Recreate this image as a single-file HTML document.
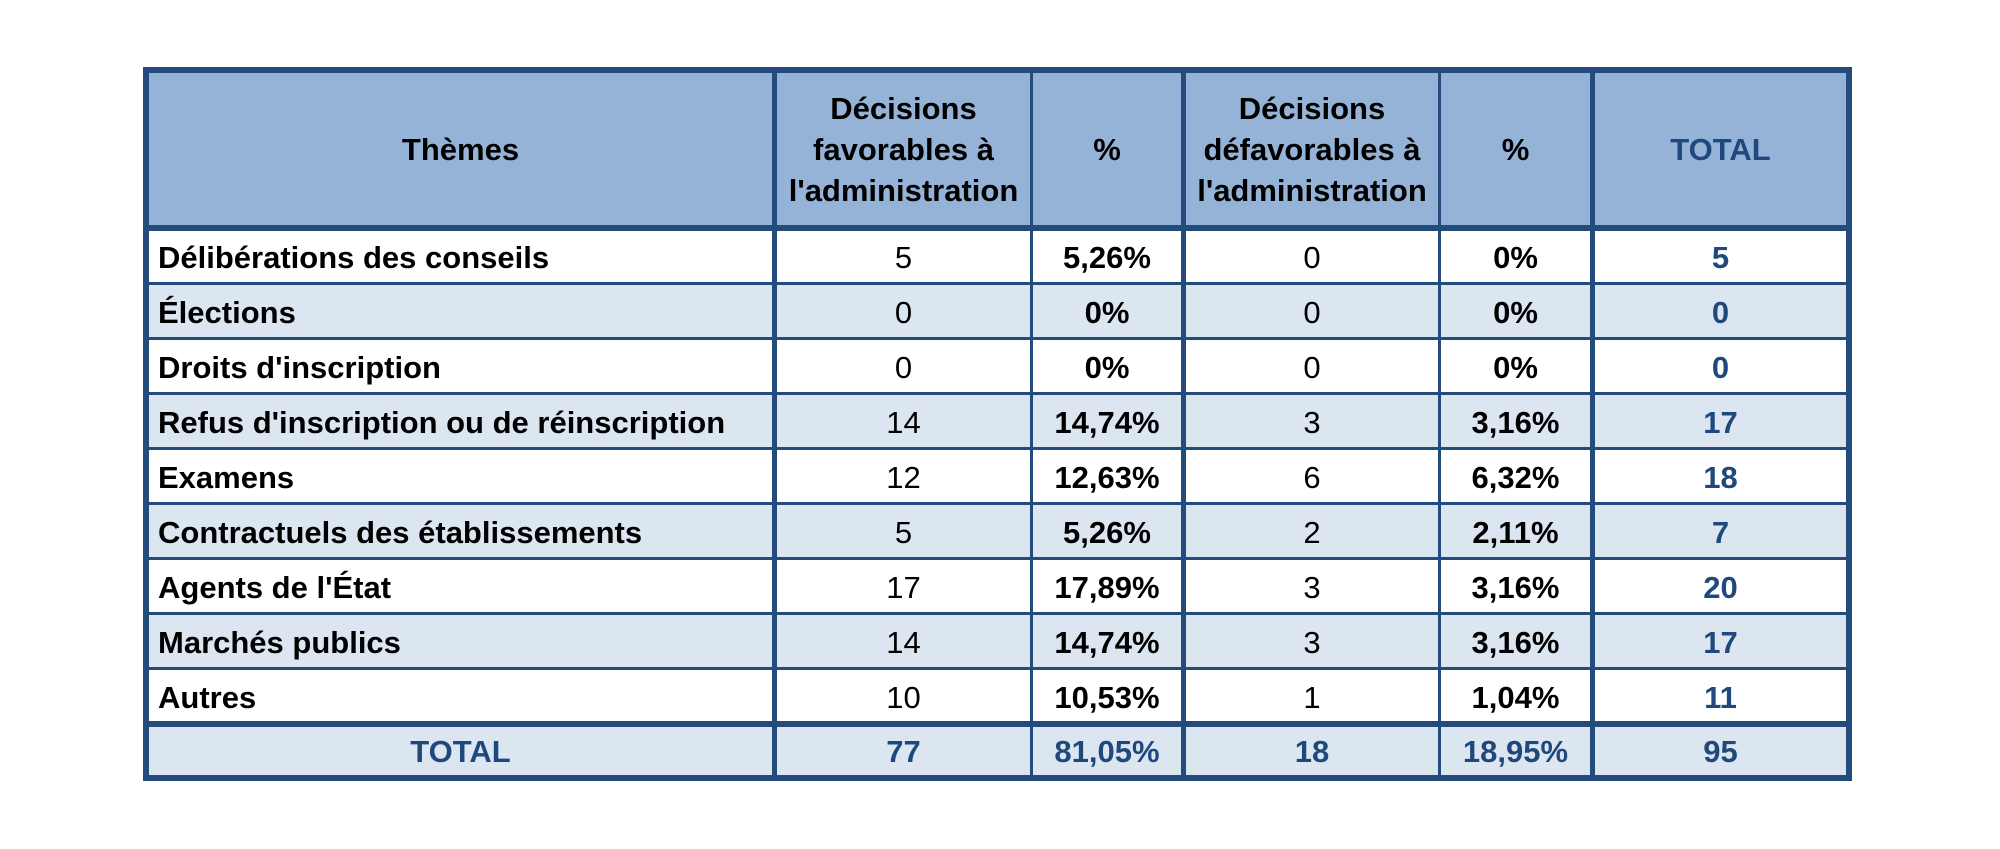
<!DOCTYPE html>
<html><head><meta charset="utf-8"><style>
body{margin:0;width:2000px;height:849px;background:#fff;position:relative;overflow:hidden;font-family:"Liberation Sans",Arial,sans-serif;font-weight:bold;font-size:31px;color:#000}
.bg,.ln,.c{position:absolute}
.ln{background:#234c7d}
.c{display:flex;align-items:center;justify-content:center;text-align:center;line-height:41px}
.l{justify-content:flex-start;padding-left:9px;box-sizing:border-box}
.n{font-weight:normal}
.b{color:#1f497d}
</style></head><body>
<div class="bg" style="left:146px;top:70px;width:1703px;height:158px;background:#95b3d7"></div>
<div class="bg" style="left:146px;top:284px;width:1703px;height:54px;background:#dce6f1"></div>
<div class="bg" style="left:146px;top:394px;width:1703px;height:54px;background:#dce6f1"></div>
<div class="bg" style="left:146px;top:504px;width:1703px;height:54px;background:#dce6f1"></div>
<div class="bg" style="left:146px;top:614px;width:1703px;height:54px;background:#dce6f1"></div>
<div class="bg" style="left:146px;top:724px;width:1703px;height:54px;background:#dce6f1"></div>

<div class="ln" style="left:143px;top:67px;width:1709px;height:6px"></div>
<div class="ln" style="left:143px;top:225px;width:1709px;height:6px"></div>
<div class="ln" style="left:143px;top:282px;width:1709px;height:3px"></div>
<div class="ln" style="left:143px;top:337px;width:1709px;height:3px"></div>
<div class="ln" style="left:143px;top:392px;width:1709px;height:3px"></div>
<div class="ln" style="left:143px;top:447px;width:1709px;height:3px"></div>
<div class="ln" style="left:143px;top:502px;width:1709px;height:3px"></div>
<div class="ln" style="left:143px;top:557px;width:1709px;height:3px"></div>
<div class="ln" style="left:143px;top:612px;width:1709px;height:3px"></div>
<div class="ln" style="left:143px;top:667px;width:1709px;height:3px"></div>
<div class="ln" style="left:143px;top:721px;width:1709px;height:6px"></div>
<div class="ln" style="left:143px;top:775px;width:1709px;height:6px"></div>
<div class="ln" style="left:143px;top:67px;width:6px;height:714px"></div>
<div class="ln" style="left:772px;top:67px;width:5px;height:714px"></div>
<div class="ln" style="left:1030px;top:67px;width:3px;height:714px"></div>
<div class="ln" style="left:1181px;top:67px;width:5px;height:714px"></div>
<div class="ln" style="left:1438px;top:67px;width:3px;height:714px"></div>
<div class="ln" style="left:1590px;top:67px;width:5px;height:714px"></div>
<div class="ln" style="left:1846px;top:67px;width:6px;height:714px"></div>

<div class="c" style="left:149px;top:73px;width:623px;height:152px">Thèmes</div>
<div class="c" style="left:777px;top:73px;width:253px;height:152px">Décisions<br>favorables à<br>l'administration</div>
<div class="c" style="left:1033px;top:73px;width:148px;height:152px">%</div>
<div class="c" style="left:1186px;top:73px;width:252px;height:152px">Décisions<br>défavorables à<br>l'administration</div>
<div class="c" style="left:1441px;top:73px;width:149px;height:152px">%</div>
<div class="c b" style="left:1595px;top:73px;width:251px;height:152px">TOTAL</div>

<div id="rows"></div>
<script>
var d=[["Délibérations des conseils","5","5,26%","0","0%","5"],
["Élections","0","0%","0","0%","0"],
["Droits d'inscription","0","0%","0","0%","0"],
["Refus d'inscription ou de réinscription","14","14,74%","3","3,16%","17"],
["Examens","12","12,63%","6","6,32%","18"],
["Contractuels des établissements","5","5,26%","2","2,11%","7"],
["Agents de l'État","17","17,89%","3","3,16%","20"],
["Marchés publics","14","14,74%","3","3,16%","17"],
["Autres","10","10,53%","1","1,04%","11"]];
var cols=[[149,623],[777,253],[1033,148],[1186,252],[1441,149],[1595,251]];
var h="";
for(var i=0;i<9;i++){var t=231+i*55,ht=52;
for(var j=0;j<6;j++){var cl="c"+(j==0?" l":"")+((j==1||j==3)?" n":"")+(j==5?" b":"");
h+='<div class="'+cl+'" style="left:'+cols[j][0]+'px;top:'+t+'px;width:'+cols[j][1]+'px;height:'+ht+'px">'+d[i][j]+'</div>';}}
var tot=["TOTAL","77","81,05%","18","18,95%","95"];
for(var j=0;j<6;j++){h+='<div class="c b" style="left:'+cols[j][0]+'px;top:727px;width:'+cols[j][1]+'px;height:48px">'+tot[j]+'</div>';}
document.getElementById("rows").innerHTML=h;
</script>
</body></html>
